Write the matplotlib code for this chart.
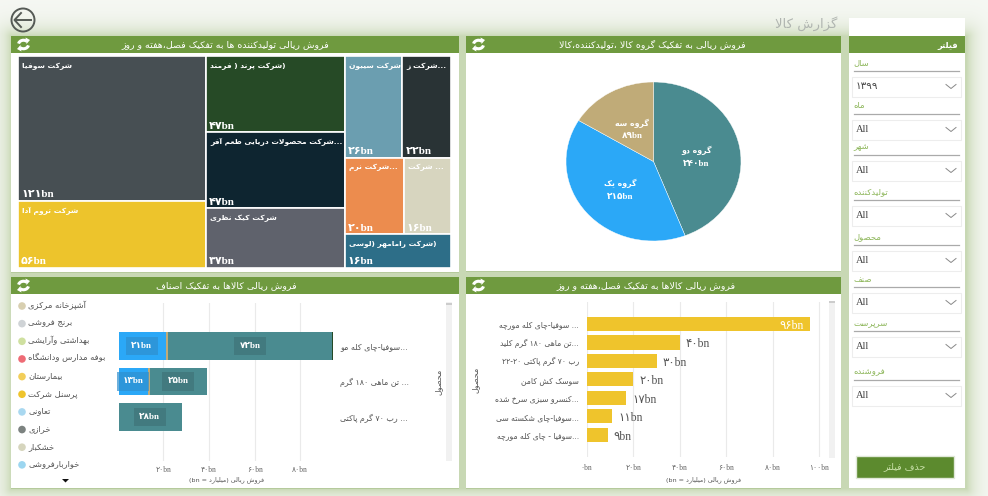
import numpy as np
import matplotlib
matplotlib.use("Agg")
import matplotlib.pyplot as plt
from matplotlib.patches import Rectangle, Circle, Arc, Polygon

W, H = 988, 496
plt.rcParams['font.family'] = ['DejaVu Sans']
VALUE_FONT = ['Liberation Serif', 'DejaVu Sans']

# treemap: sales per producer
tm_names = ['شرکت سوفیا', 'شرکت تروم آدا', '(شرکت پرند ( فرمند', '...شرکت محصولات دریایی طعم آفر', 'شرکت کیک نظری',
            'شرکت سیبون', '...شرکت ز', '...شرکت نرم', '... شرکت', '(شرکت رامامهر (لوسی']
tm_values = [121, 56, 47, 47, 37, 26, 22, 20, 16, 16]
tm_colors = ['#474F53', '#EDC42C', '#264A26', '#0E2530', '#5F626C', '#6B9EB0', '#293335', '#EC8C4E', '#D7D5BF', '#2D6E88']
tm_layout = [[[0], [1]], [[2], [3], [4]], [[5, 6], [7, 8], [9]]]

# pie: sales per product group
pie_names = ['گروه دو', 'گروه یک', 'گروه سه']
pie_values = [240, 215, 89]
pie_colors = ['#4A8B90', '#2BA8F7', '#C0AB78']

# stacked bars: products split by class
stack_products = ['...سوفیا-چای کله مو', '... تن ماهی ۱۸۰ گرم', '... رب ۷۰ گرم پاکتی']
stack_blue = [21, 13, 0]
stack_tan = [1, 1, 0]
stack_teal = [72, 25, 28]
stack_ticks = [20, 40, 60, 80]

legend_names = ['آشپزخانه مرکزی', 'برنج فروشی', 'بهداشتی وآرایشی', 'بوفه مدارس ودانشگاه', 'بیمارستان',
                'پرسنل شرکت', 'تعاونی', 'خرازی', 'خشکبار', 'خواربارفروشی']
legend_colors = ['#D8CFB0', '#CFD3D6', '#CFE0A0', '#EE6B75', '#F2CE5A', '#EFC42C', '#A9D8F0', '#7C8280', '#D6D5BD', '#9CD6F0']

# horizontal bars: top products
top_products = ['... سوفیا-چای کله مورچه', '...تن ماهی ۱۸۰ گرم کلید', 'رب ۷۰ گرم پاکتی ۲۰-۲۲', 'سوسک کش کامن',
                '...کنسرو سبزی سرخ شده', '...سوفیا-چای شکسته سی', '...سوفیا - چای کله مورچه']
top_values = [96, 40, 30, 20, 17, 11, 9]
top_ticks = [0, 20, 40, 60, 80, 100]

# filter column
filter_names = ['سال', 'ماه', 'شهر', 'تولیدکننده', 'محصول', 'صنف', 'سرپرست', 'فروشنده']
filter_values = ['۱۳۹۹', 'All', 'All', 'All', 'All', 'All', 'All', 'All']
filter_rows = [63, 106, 147, 192, 237, 279, 323, 372]

HEADER = '#6F9A3F'
KEEP_ORDER = '۰۱۲۳۴۵۶۷۸۹abcdefghijklmnopqrstuvwxyz'

# Arabic/Persian letters -> isolated, final, initial, medial forms
FORMS = {}
for ch, start in zip('بتثجحخسشصضطظعغفقلمنهی', [0xFE8F, 0xFE95, 0xFE99, 0xFE9D, 0xFEA1, 0xFEA5, 0xFEB1, 0xFEB5, 0xFEB9,
                                                 0xFEBD, 0xFEC1, 0xFEC5, 0xFEC9, 0xFECD, 0xFED1, 0xFED5, 0xFEDD, 0xFEE1,
                                                 0xFEE5, 0xFEE9, 0xFBFC]):
    FORMS[ch] = [chr(start + i) for i in range(4)]
for ch, start in zip('پچکگ', [0xFB56, 0xFB7A, 0xFB8E, 0xFB92]):
    FORMS[ch] = [chr(start + i) for i in range(4)]
for ch, iso, fin in [('ا', 0xFE8D, 0xFE8E), ('آ', 0xFE81, 0xFE82), ('د', 0xFEA9, 0xFEAA), ('ذ', 0xFEAB, 0xFEAC),
                     ('ر', 0xFEAD, 0xFEAE), ('ز', 0xFEAF, 0xFEB0), ('ژ', 0xFB8A, 0xFB8B), ('و', 0xFEED, 0xFEEE)]:
    FORMS[ch] = [chr(iso), chr(fin), None, None]
MIRROR = {'(': ')', ')': '('}


def fa(s):
    # matplotlib has no shaping or bidi, so join the letters and flip the line here
    s = s.replace('لا', '\uFEFB').replace('لآ', '\uFEF5')
    out = []
    for i, c in enumerate(s):
        if c == '\uFEFB' or c == '\uFEF5':
            prev = s[i - 1] if i else ' '
            joined = prev in FORMS and FORMS[prev][2] is not None
            out.append(chr(ord(c) + 1) if joined else c)
            continue
        if c not in FORMS:
            out.append(MIRROR.get(c, c))
            continue
        prev = s[i - 1] if i else ' '
        nxt = s[i + 1] if i + 1 < len(s) else ' '
        from_prev = prev in FORMS and FORMS[prev][2] is not None
        to_next = FORMS[c][2] is not None and (nxt in FORMS or nxt in '\uFEFB\uFEF5')
        idx = {(False, False): 0, (True, False): 1, (False, True): 2, (True, True): 3}[(from_prev, to_next)]
        out.append(FORMS[c][idx])
    line = ''.join(out)[::-1]
    # digit and latin runs keep their reading order
    res, run = '', ''
    for c in line:
        if c in KEEP_ORDER:
            run += c
        else:
            res += run[::-1] + c
            run = ''
    return res + run[::-1]


def bn(v):
    return str(v).translate(str.maketrans('0123456789', '۰۱۲۳۴۵۶۷۸۹')) + 'bn'


fig = plt.figure(figsize=(W / 100, H / 100), dpi=100)
bg = fig.add_axes([0, 0, 1, 1], zorder=0)
bg.set_xlim(0, W)
bg.set_ylim(H, 0)
bg.axis('off')

# page background: pale green behind the panels, fading to white outside them
yy, xx = np.mgrid[0:H, 0:W]
dx = np.maximum(np.maximum(11 - xx, xx - 965), 0)
dy = np.maximum(np.maximum(36 - yy, yy - 488), 0)
fade = np.exp(-np.hypot(dx, dy) / 9.0)[..., None]
img = fade * np.array([200, 216, 180]) + (1 - fade) * np.array([246, 248, 244])
bg.imshow(img.astype(np.uint8), extent=(0, W, H, 0), aspect='auto', zorder=0)
bg.set_xlim(0, W)
bg.set_ylim(H, 0)


def sub_axes(x0, y0, x1, y1):
    ax = fig.add_axes([x0 / W, 1 - y1 / H, (x1 - x0) / W, (y1 - y0) / H], zorder=2)
    ax.patch.set_alpha(0)
    return ax


def refresh_icon(cx, cy):
    for start, tip in [(190, (cx + 6.5, cy - 4.5)), (10, (cx - 6.5, cy + 4.5))]:
        bg.add_patch(Arc((cx, cy), 10, 8.5, theta1=start, theta2=start + 125, color='white', lw=2.2, zorder=4))
        s = 1 if tip[0] > cx else -1
        bg.add_patch(Polygon([tip, (tip[0] - 4.5 * s, tip[1] - 2.5 * s), (tip[0] - 3.5 * s, tip[1] + 4 * s)],
                             color='white', zorder=4, lw=0))


def panel(x0, y0, x1, y1, title=None, tx=None, icon=True):
    bg.add_patch(Rectangle((x0, y0), x1 - x0, y1 - y0, fc='white', ec='none', zorder=2))
    bg.add_patch(Rectangle((x0, y1 - 0.5), x1 - x0, 1.5, fc='#B5CA9C', ec='none', zorder=2))
    bg.add_patch(Rectangle((x0, y0), x1 - x0, 16.5, fc=HEADER, ec='none', zorder=3))
    if title:
        bg.text(tx, y0 + 8.5, fa(title), color='white', fontsize=6.8, ha='center', va='center', zorder=4)
    if icon:
        refresh_icon(x0 + 12.5, y0 + 8.5)


panel(11, 36, 459, 272, 'فروش ریالی تولیدکننده ها به تفکیک فصل،هفته و روز', 225)
panel(466, 36, 841, 271, 'فروش ریالی به تفکیک گروه کالا ،تولیدکننده،کالا', 652)
panel(11, 277, 459, 488, 'فروش ریالی کالاها به تفکیک اصناف', 226)
panel(466, 277, 841, 488, 'فروش ریالی کالاها به تفکیک فصل،هفته و روز', 646)

# back button and page title
bg.add_patch(Circle((23, 20), 11.5, fc='none', ec='#555a55', lw=1.4, zorder=4))
bg.plot([14.5, 31], [20, 20], color='#555a55', lw=1.4, zorder=4)
bg.plot([21, 14.5, 21], [13, 20, 27], color='#555a55', lw=1.4, zorder=4)
bg.text(837, 24, fa('گزارش کالا'), color='#B0B5B0', fontsize=9.5, ha='right', va='center', zorder=4)

# treemap
ax = sub_axes(18, 56, 451, 268)
total = sum(tm_values)
ax.set_xlim(0, total)
ax.set_ylim(total, 0)
ax.axis('off')
col_x = 0
for col in tm_layout:
    col_sum = sum(tm_values[i] for row in col for i in row)
    col_w = col_sum
    row_y = 0
    for row in col:
        row_sum = sum(tm_values[i] for i in row)
        row_h = total * row_sum / col_sum
        cell_x = col_x
        for i in row:
            cell_w = col_w * tm_values[i] / row_sum
            ax.add_patch(Rectangle((cell_x, row_y), cell_w, row_h, fc=tm_colors[i], ec='white', lw=1.2))
            ax.annotate(fa(tm_names[i]), (cell_x, row_y), xytext=(4, -10), textcoords='offset pixels',
                        color='white', fontsize=5.4, fontweight='bold', va='center', ha='left')
            ax.annotate(bn(tm_values[i]), (cell_x, row_y + row_h), xytext=(3, 6), textcoords='offset pixels',
                        color='white', fontsize=8, fontweight='bold', va='center', ha='left', family=VALUE_FONT)
            cell_x += cell_w
        row_y += row_h
    col_x += col_w

# pie
ax = sub_axes(566, 82, 741, 241)
ax.pie(pie_values, colors=pie_colors, startangle=90, counterclock=False, radius=1,
       wedgeprops={'edgecolor': 'white', 'linewidth': 0.3})
ax.set_aspect('auto')
ax.set_xlim(-1, 1)
ax.set_ylim(-1, 1)
cum = 0
for name, v in zip(pie_names, pie_values):
    mid = (cum + v / 2) / sum(pie_values) * 2 * np.pi
    cum += v
    px, py = 0.5 * np.sin(mid), 0.5 * np.cos(mid)
    ax.annotate(fa(name), (px, py), xytext=(0, 3.5), textcoords='offset pixels', color='white', fontsize=5.6,
                fontweight='bold', ha='center', va='center')
    ax.annotate(bn(v), (px, py), xytext=(0, -9.5), textcoords='offset pixels', color='white', fontsize=6.5,
                fontweight='bold', ha='center', va='center', family=VALUE_FONT)

# stacked bars
ax = sub_axes(119, 303, 337, 461)
ax.set_xlim(0.5, 0.5 + 218 / 2.28)
pos = np.arange(len(stack_products))
ax.set_ylim(3.24, -1.21)
left_tan = np.array(stack_blue)
left_teal = left_tan + np.array(stack_tan)
ax.barh(pos, stack_blue, height=0.77, color='#2BA8F7')
ax.barh(pos, stack_tan, left=left_tan, height=0.77, color='#C0AB78')
ax.barh(pos, stack_teal, left=left_teal, height=0.77, color='#4A8B90')
ax.barh(pos[:1], [0.5], left=left_teal[:1] + np.array(stack_teal[:1]), height=0.77, color='#264A26')
box = {'boxstyle': 'square,pad=0.6', 'fc': '#3F7379', 'ec': 'none', 'alpha': 0.7}
for p, a, c in zip(pos, stack_blue, stack_teal):
    if a:
        ax.text(a / 2, p, bn(a), color='white', fontsize=6.5, fontweight='bold', ha='center', va='center',
                family=VALUE_FONT, bbox=dict(box, fc='#2F8FCE'))
    ax.text(left_teal[p] + c / 2, p, bn(c), color='white', fontsize=6.5, fontweight='bold', ha='center', va='center',
            family=VALUE_FONT, bbox=box)
ax.set_xticks(stack_ticks)
ax.set_xticklabels([bn(t) for t in stack_ticks], family=VALUE_FONT, fontsize=5.5, color='#666666')
ax.set_yticks([])
ax.tick_params(axis='x', length=0, pad=3.5)
ax.grid(axis='x', color='#EAEAEA', lw=0.8)
ax.set_axisbelow(True)
for s in ax.spines.values():
    s.set_visible(False)
for p, name in zip(pos, stack_products):
    bg.text(340, 347 + p * 35.5, fa(name), color='#555555', fontsize=5.8, ha='left', va='center', zorder=4)
bg.text(226, 480, fa('فروش ریالی (میلیارد = bn)'), color='#555555', fontsize=4.6, ha='center', va='center', zorder=4)
bg.text(438, 382, fa('محصول'), color='#555555', fontsize=5.8, rotation=90, ha='center', va='center', zorder=4)
bg.add_patch(Rectangle((446, 302), 5.5, 159, fc='#F1F1F1', ec='none', zorder=3))
bg.add_patch(Rectangle((446, 303), 5.5, 2, fc='#CCCCCC', ec='none', zorder=3))

# legend of the stacked bars
for i, (name, c) in enumerate(zip(legend_names, legend_colors)):
    y = 306 + i * 17.65
    bg.add_patch(Circle((22, y), 3.8, fc=c, ec='none', zorder=4))
    bg.text(28, y - 1, fa(name), color='#555555', fontsize=6, ha='left', va='center', zorder=4)
bg.add_patch(Polygon([(62, 479), (69, 479), (65.5, 482.5)], color='#111111', zorder=4, lw=0))

# top products
ax = sub_axes(586.7, 302, 829, 457)
ax.set_xlim(0, 242.3 / 2.327)
pos = np.arange(len(top_products))
ax.set_ylim(7.21, -1.19)
ax.barh(pos, top_values, height=0.775, color='#EFC42C')
ax.set_xticks(top_ticks)
ax.set_xticklabels([bn(t) for t in top_ticks], family=VALUE_FONT, fontsize=5.5, color='#666666')
ax.tick_params(axis='x', length=0, pad=5)
ax.set_yticks(pos)
ax.set_yticklabels([fa(n) for n in top_products], fontsize=5.5, color='#555555')
ax.tick_params(axis='y', length=0, pad=5.5)
ax.grid(axis='x', color='#EAEAEA', lw=0.8)
ax.set_axisbelow(True)
for s in ax.spines.values():
    s.set_visible(False)
for p, v in zip(pos, top_values):
    if v > 80:
        ax.annotate(bn(v), (v, p), xytext=(-6, -2), textcoords='offset pixels', color='white', fontsize=8.5,
                    ha='right', va='center', family=VALUE_FONT)
    else:
        ax.annotate(bn(v), (v, p), xytext=(6, -2), textcoords='offset pixels', color='#555555', fontsize=8.5,
                    ha='left', va='center', family=VALUE_FONT)
bg.text(703, 480, fa('فروش ریالی (میلیارد = bn)'), color='#555555', fontsize=4.6, ha='center', va='center', zorder=4)
bg.text(475, 380, fa('محصول'), color='#555555', fontsize=5.8, rotation=90, ha='center', va='center', zorder=4)
bg.add_patch(Rectangle((829, 301), 6, 157, fc='#F1F1F1', ec='none', zorder=3))
bg.add_patch(Rectangle((829, 301), 6, 2, fc='#CCCCCC', ec='none', zorder=3))

# filter column
bg.add_patch(Rectangle((849, 18), 116, 470, fc='white', ec='none', zorder=2))
bg.add_patch(Rectangle((849, 36), 116, 16.5, fc=HEADER, ec='none', zorder=3))
bg.text(958, 45, fa('فیلتر'), color='white', fontsize=6, fontweight='bold', ha='right', va='center', zorder=4)
for name, val, y in zip(filter_names, filter_values, filter_rows):
    bg.text(853.5, y, fa(name), color='#8DB65A', fontsize=6.1, ha='left', va='center', zorder=4)
    bg.plot([853.5, 959], [y + 7.5, y + 7.5], color='#AAAAAA', lw=0.9, zorder=4)
    bg.add_patch(Rectangle((851.5, y + 13.5), 109, 20, fc='white', ec='#EDEDED', lw=0.8, zorder=4))
    bg.text(856, y + 23.5, val, color='#444444', fontsize=7.5, ha='left', va='center', family=VALUE_FONT, zorder=5)
    bg.plot([946, 951, 956], [y + 21.5, y + 25.5, y + 21.5], color='#888888', lw=0.7, zorder=5)
bg.add_patch(Rectangle((855.7, 456), 98.5, 21.7, fc='#5C8A2E', ec='#E0E8D8', lw=1, zorder=4))
bg.text(905, 467, fa('حذف فیلتر'), color='#C8E0A8', fontsize=6.8, ha='center', va='center', zorder=5)

fig.savefig('out.png', dpi=100)
